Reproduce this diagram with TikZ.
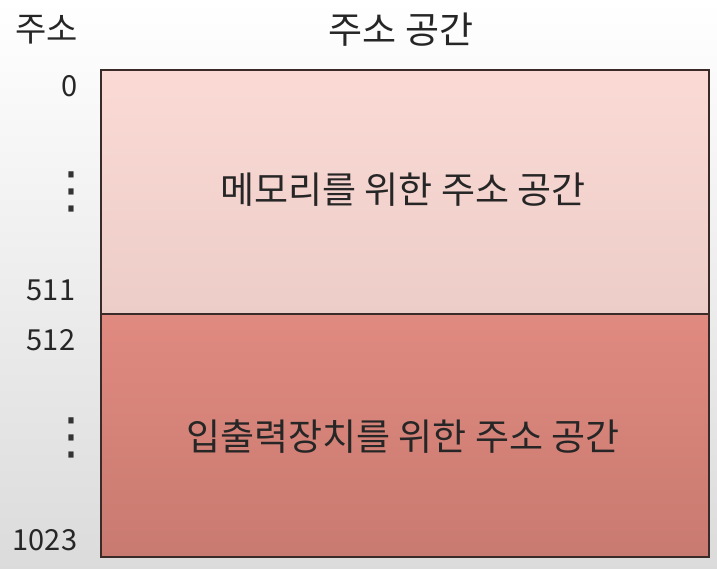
\documentclass[tikz,border=0pt]{standalone}
\usepackage{fontspec}
\newfontfamily\kr{Noto Sans CJK KR}
\newfontfamily\dv{DejaVu Sans}
\definecolor{memtop}{HTML}{FBDAD5}
\definecolor{membot}{HTML}{EDCDC8}
\definecolor{iotop}{HTML}{E08A80}
\definecolor{iobot}{HTML}{C97A70}
\definecolor{edge}{HTML}{3A2A28}
\begin{document}
\begin{tikzpicture}[x=1pt,y=-1pt,
  lbl/.style={font=\kr\fontsize{37}{40}\selectfont, text=black!85, inner sep=0pt},
  hdr/.style={font=\kr\fontsize{34}{38}\selectfont, text=black!85, inner sep=0pt},
  num/.style={font=\kr\fontsize{29}{32}\selectfont, text=black!85, inner sep=0pt},
  vdot/.style={font=\dv\fontsize{50}{50}\selectfont, text=black!80, inner sep=0pt}]
\useasboundingbox (0,0) rectangle (717,569);
\shade[top color=white, bottom color=black!14] (0,0) rectangle (717,569);
% regions
\shade[top color=memtop, bottom color=membot] (101,70) rectangle (709,314);
\shade[top color=iotop, bottom color=iobot] (101,314) rectangle (709,557);
\draw[edge, line width=2.2pt] (101,70) rectangle (709,557);
\draw[edge, line width=2pt] (101,314) -- (709,314);
% labels
\node[hdr] (h1) at (47,30) {주소};
\node[lbl] (h2) at (401,30) {주소 공간};
\node[lbl] (m) at (403,190) {메모리를 위한 주소 공간};
\node[lbl] (io) at (403,437) {입출력장치를 위한 주소 공간};
\node[num] (a0) at (70,86) {0};
\node[num] (a511) at (51,290) {511};
\node[num] (a512) at (51,340) {512};
\node[num] (a1023) at (45,540) {1023};
% vertical ellipses
\node[vdot] (d1) at (71,192) {⋮};
\node[vdot] (d2) at (71,438) {⋮};
\end{tikzpicture}
\end{document}
